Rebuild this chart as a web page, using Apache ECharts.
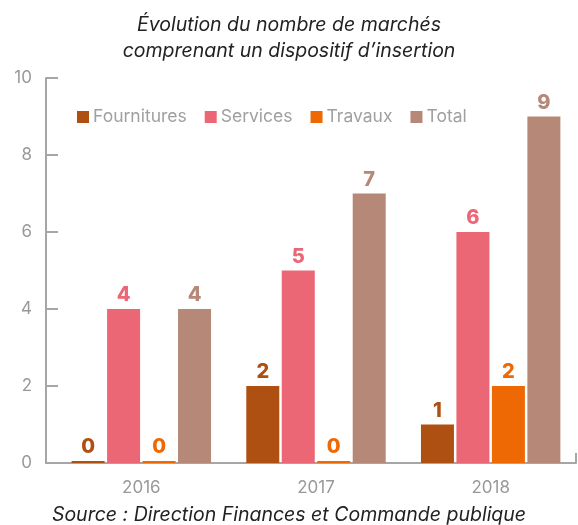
<!DOCTYPE html>
<html><head><meta charset="utf-8">
<script src="https://cdn.jsdelivr.net/npm/echarts@6/dist/echarts.min.js"></script>
<style>html,body{margin:0;padding:0;background:#fff}#c{width:578px;height:525px}</style>
</head><body><div id="c"></div>
<script>
const categories = ['2016', '2017', '2018'];
const fournitures = [0, 2, 1];
const services = [4, 5, 6];
const travaux = [0, 0, 2];
const total = [4, 7, 9];
const yTicks = [0, 2, 4, 6, 8, 10];

const colors = { f: '#AF5013', s: '#EB6775', t: '#EE6804', tot: '#B68877' };
const FONT = 'Inter, "Noto Sans", sans-serif';

function barSeries(name, data, color) {
  return {
    name, type: 'bar', data, xAxisIndex: 0, yAxisIndex: 0,
    barWidth: 33, barGap: '7.5%', barMinHeight: 2,
    itemStyle: { color },
    label: { show: true, position: 'top', distance: 4, color, fontFamily: FONT, fontWeight: 800, fontSize: 20 }
  };
}

const chart = echarts.init(document.getElementById('c'), null, { renderer: 'canvas' });
chart.setOption({
  animation: false,
  title: [
    { text: 'Évolution du nombre de marchés\ncomprenant un dispositif d\u2019insertion', left: 'center', top: 7,
      textStyle: { fontFamily: FONT, fontStyle: 'italic', fontWeight: 'normal', fontSize: 19.5, color: '#222', lineHeight: 26 } },
    { text: 'Source : Direction Finances et Commande publique', left: 'center', top: 500,
      textStyle: { fontFamily: FONT, fontStyle: 'italic', fontWeight: 'normal', fontSize: 19.5, color: '#222' } }
  ],
  legend: {
    left: 72, top: 103, itemWidth: 12, itemHeight: 12, itemGap: 18, icon: 'rect',
    textStyle: { fontFamily: FONT, fontSize: 17.5, color: '#a0a0a0', padding: [0, 0, 0, -1] },
    data: ['Fournitures', 'Services', 'Travaux', 'Total']
  },
  grid: [
    { left: 54, width: 530, top: 78, bottom: 62 },
    { left: 46, width: 530, top: 78, bottom: 62 }
  ],
  xAxis: [
    { type: 'category', gridIndex: 0, data: categories,
      axisLine: { show: false }, axisTick: { show: false },
      axisLabel: { color: '#999', fontFamily: FONT, fontSize: 17, margin: 16 } },
    { type: 'value', gridIndex: 1, min: 0, max: 1, interval: 1,
      axisLine: { show: true, lineStyle: { color: '#a6a6a6', width: 2 } },
      axisTick: { show: true, inside: true, length: 10, lineStyle: { color: '#a6a6a6', width: 2 } },
      axisLabel: { show: false }, splitLine: { show: false } }
  ],
  yAxis: [
    { type: 'value', gridIndex: 0, min: 0, max: 10, interval: 2, show: false, splitLine: { show: false } },
    { type: 'value', gridIndex: 1, min: yTicks[0], max: yTicks[yTicks.length - 1], interval: 2,
      axisLine: { show: true, lineStyle: { color: '#a6a6a6', width: 2 } },
      axisTick: { show: true, inside: true, length: 12, lineStyle: { color: '#a6a6a6', width: 2 } },
      axisLabel: { color: '#999', fontFamily: FONT, fontSize: 17, margin: 14 },
      splitLine: { show: false } }
  ],
  series: [
    barSeries('Fournitures', fournitures, colors.f),
    barSeries('Services', services, colors.s),
    barSeries('Travaux', travaux, colors.t),
    barSeries('Total', total, colors.tot)
  ]
});
</script></body></html>
